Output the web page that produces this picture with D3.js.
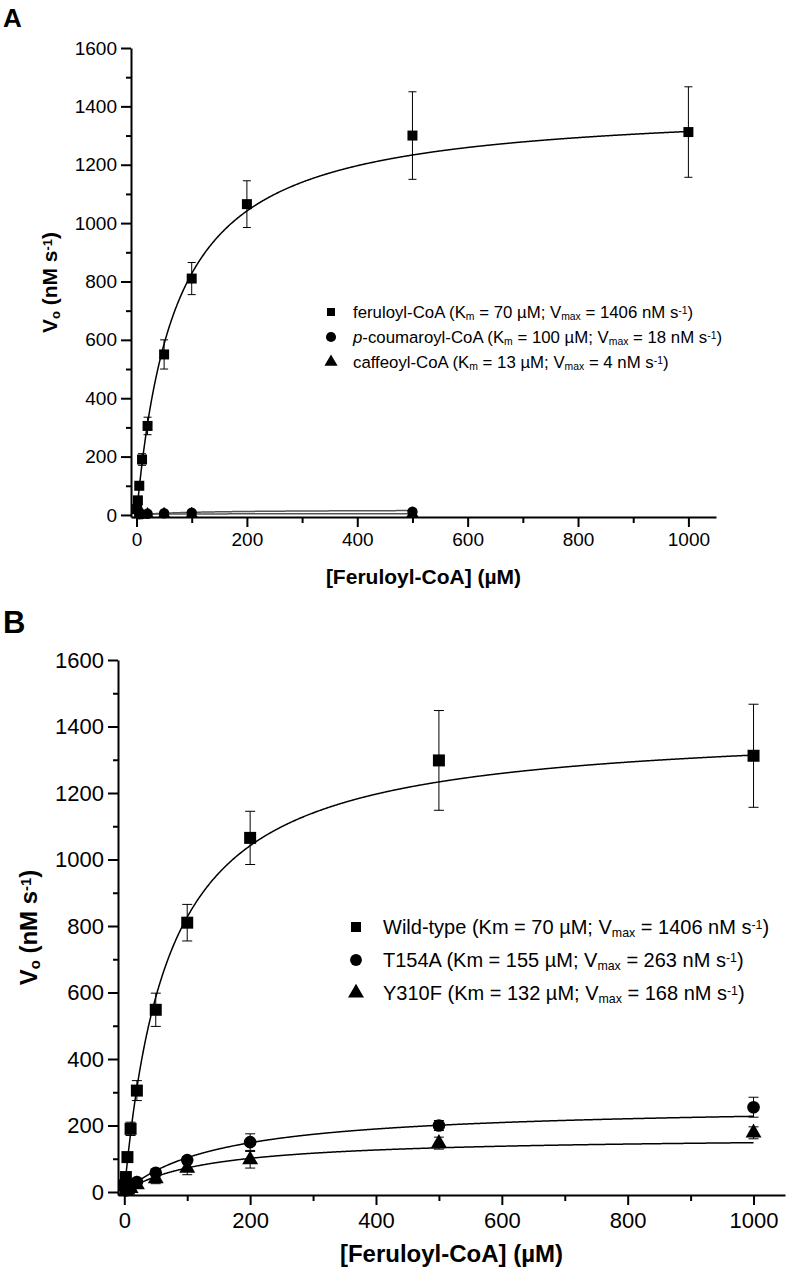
<!DOCTYPE html>
<html>
<head>
<meta charset="utf-8">
<script src="https://cdn.jsdelivr.net/npm/d3@7"></script>
<style>
  body { margin: 0; background: #fff; }
  svg text { font-family: "Liberation Sans", Arial, sans-serif; fill: #000; }
</style>
</head>
<body>
<div id="chart"></div>
<script>
// ---- data ----
const majorX = [0, 200, 400, 600, 800, 1000];
const minorX = [100, 300, 500, 700, 900];
const majorY = [0, 200, 400, 600, 800, 1000, 1200, 1400, 1600];
const minorY = [100, 300, 500, 700, 900, 1100, 1300, 1500];

// panel A
const feruloylX = [1, 2.5, 5, 10, 20, 50, 100, 200, 500, 1000];
const feruloylV = [20, 50, 100, 190, 305, 550, 810, 1065, 1300, 1312];
const feruloylErr = [3, 5, 8, 20, 30, 50, 55, 80, 150, 155];
const coumaroylX = [5, 10, 20, 50, 100, 500];
const coumaroylV = [2, 3, 4, 6, 8, 11];
const coumaroylErr = [1, 1, 1, 1, 2, 2];
const caffeoylX = [5, 10, 20, 50, 100, 500];
const caffeoylV = [1, 2, 2, 3, 3, 4];
const caffeoylErr = [1, 1, 1, 1, 1, 1];

// panel B
const wildX = [1, 2.5, 5, 10, 20, 50, 100, 200, 500, 1000];
const wildV = [20, 45, 105, 190, 305, 548, 810, 1065, 1298, 1312];
const wildErr = [3, 5, 10, 20, 30, 50, 55, 80, 150, 155];
const t154aX = [2.5, 5, 10, 20, 50, 100, 200, 500, 1000];
const t154aV = [5, 9, 16, 30, 58, 96, 150, 200, 255];
const t154aErr = [2, 3, 4, 6, 8, 10, 25, 15, 30];
const y310fX = [2.5, 5, 10, 20, 50, 100, 200, 500, 1000];
const y310fV = [3, 6, 11, 22, 40, 72, 97, 147, 178];
const y310fErr = [2, 3, 4, 6, 15, 20, 25, 18, 18];

// Michaelis-Menten fit parameters (from legends)
const fitKm = { feruloyl: 70, coumaroyl: 100, caffeoyl: 13, wild: 70, t154a: 155, y310f: 132 };
const fitVmax = { feruloyl: 1406, coumaroyl: 18, caffeoyl: 4, wild: 1406, t154a: 263, y310f: 168 };

const width = 789, height = 1280;
const svg = d3.select("#chart").append("svg")
  .attr("width", width).attr("height", height);

function zip(xs, vs, es) {
  return xs.map((x, i) => ({ x: x, v: vs[i], e: es[i] }));
}

// add a label built from parts [{t, sub, sup, it}]
function richText(sel, parts, subSize) {
  parts.forEach((p) => {
    const ts = sel.append("tspan").text(p.t);
    if (p.sub) ts.attr("baseline-shift", "-22%").style("font-size", subSize);
    if (p.sup) ts.attr("baseline-shift", "38%").style("font-size", subSize);
    if (p.it) ts.style("font-style", "italic");
  });
  return sel;
}

function drawPanel(cfg) {
  const x = d3.scaleLinear().domain([-10, 1050]).range([cfg.left, cfg.right]);
  const y = d3.scaleLinear().domain([cfg.yMin, 1600]).range([cfg.bottom, cfg.top]);

  const g = svg.append("g");

  // panel letter
  g.append("text").attr("x", 3).attr("y", cfg.letterY)
    .style("font-size", cfg.letterSize + "px").style("font-weight", "bold")
    .text(cfg.letter);

  // minor ticks
  g.append("g").attr("transform", `translate(0,${cfg.bottom})`)
    .call(d3.axisBottom(x).tickValues(minorX).tickSize(6).tickFormat("").tickSizeOuter(0))
    .call((a) => a.select(".domain").remove());
  g.append("g").attr("transform", `translate(${cfg.left},0)`)
    .call(d3.axisLeft(y).tickValues(minorY).tickSize(5).tickFormat("").tickSizeOuter(0))
    .call((a) => a.select(".domain").remove());

  // major axes
  const xAxis = g.append("g").attr("transform", `translate(0,${cfg.bottom})`)
    .call(d3.axisBottom(x).tickValues(majorX).tickFormat(d3.format("d"))
      .tickSize(10).tickPadding(cfg.xPad).tickSizeOuter(0));
  const yAxis = g.append("g").attr("transform", `translate(${cfg.left},0)`)
    .call(d3.axisLeft(y).tickValues(majorY).tickFormat(d3.format("d"))
      .tickSize(10).tickPadding(4).tickSizeOuter(0));

  g.selectAll(".tick line").attr("stroke", "#000").attr("stroke-width", 2);
  g.selectAll(".domain").attr("stroke", "#000").attr("stroke-width", 2);
  [xAxis, yAxis].forEach((a) => a.selectAll("text")
    .style("font-family", '"Liberation Sans", Arial, sans-serif')
    .style("font-size", cfg.tickSize + "px"));

  // axis titles
  g.append("text")
    .attr("x", (cfg.left + cfg.right) / 2).attr("y", cfg.xTitleY)
    .attr("text-anchor", "middle")
    .style("font-size", cfg.titleSize + "px").style("font-weight", "bold")
    .text("[Feruloyl-CoA] (µM)");
  const yt = g.append("text")
    .attr("transform", `translate(${cfg.yTitleX},${(cfg.top + cfg.bottom) / 2}) rotate(-90)`)
    .attr("text-anchor", "middle")
    .style("font-size", cfg.titleSize + "px").style("font-weight", "bold");
  richText(yt, [{ t: "V" }, { t: "o", sub: true }, { t: " (nM s" }, { t: "-1", sup: true }, { t: ")" }], "62%");

  // fit curves
  const line = d3.line().x((d) => x(d[0])).y((d) => y(d[1]));
  cfg.series.forEach((s) => {
    const km = fitKm[s.key], vm = fitVmax[s.key];
    const pts = d3.range(0, s.fitEnd + 1, 1).map((c) => [c, vm * c / (km + c)]);
    g.append("path").datum(pts)
      .attr("fill", "none").attr("stroke", s.fitColor || "#000")
      .attr("stroke-width", 1.5).attr("d", line);
  });

  // error bars + markers
  cfg.series.forEach((s) => {
    const eg = g.append("g");
    eg.selectAll("line.bar").data(s.data).join("line")
      .attr("x1", (d) => x(d.x)).attr("x2", (d) => x(d.x))
      .attr("y1", (d) => y(d.v - d.e)).attr("y2", (d) => y(d.v + d.e))
      .attr("stroke", "#000").attr("stroke-width", 1);
    [1, -1].forEach((sg) => {
      eg.selectAll(null).data(s.data).join("line")
        .attr("x1", (d) => x(d.x) - cfg.cap).attr("x2", (d) => x(d.x) + cfg.cap)
        .attr("y1", (d) => y(d.v + sg * d.e)).attr("y2", (d) => y(d.v + sg * d.e))
        .attr("stroke", "#000").attr("stroke-width", 1);
    });
    const sym = d3.symbol().type(s.type).size(s.size);
    g.append("g").selectAll("path").data(s.data).join("path")
      .attr("transform", (d) => `translate(${x(d.x)},${y(d.v)})`)
      .attr("d", sym).attr("fill", "#000");
  });

  // legend
  const lg = g.append("g");
  cfg.legend.forEach((item, i) => {
    const ly = cfg.legendY + i * cfg.legendGap;
    lg.append("path")
      .attr("transform", `translate(${cfg.legendSymX},${ly})`)
      .attr("d", d3.symbol().type(item.type).size(item.size)).attr("fill", "#000");
    const t = lg.append("text").attr("x", cfg.legendTextX).attr("y", ly + cfg.legendSize * 0.36)
      .style("font-size", cfg.legendSize + "px");
    richText(t, item.parts, "62%");
  });
}

drawPanel({
  letter: "A", letterY: 27, letterSize: 26,
  left: 131, right: 716, top: 48, bottom: 517, yMin: -7,
  tickSize: 19, xPad: 6, titleSize: 21,
  xTitleY: 584, yTitleX: 57, cap: 4,
  series: [
    { key: "feruloyl", data: zip(feruloylX, feruloylV, feruloylErr), type: d3.symbolSquare, size: 100, fitEnd: 1000 },
    { key: "coumaroyl", data: zip(coumaroylX, coumaroylV, coumaroylErr), type: d3.symbolCircle, size: 85, fitEnd: 500, fitColor: "#555" },
    { key: "caffeoyl", data: zip(caffeoylX, caffeoylV, caffeoylErr), type: d3.symbolTriangle, size: 70, fitEnd: 500, fitColor: "#555" },
  ],
  legendY: 312, legendGap: 25, legendSymX: 331, legendTextX: 353, legendSize: 16.8,
  legend: [
    { type: d3.symbolSquare, size: 64, parts: [{ t: "feruloyl-CoA (K" }, { t: "m", sub: true }, { t: " = 70 µM; V" }, { t: "max", sub: true }, { t: " = 1406 nM s" }, { t: "-1", sup: true }, { t: ")" }] },
    { type: d3.symbolCircle, size: 80, parts: [{ t: "p", it: true }, { t: "-coumaroyl-CoA (K" }, { t: "m", sub: true }, { t: " = 100 µM; V" }, { t: "max", sub: true }, { t: " = 18 nM s" }, { t: "-1", sup: true }, { t: ")" }] },
    { type: d3.symbolTriangle, size: 75, parts: [{ t: "caffeoyl-CoA (K" }, { t: "m", sub: true }, { t: " = 13 µM; V" }, { t: "max", sub: true }, { t: " = 4 nM s" }, { t: "-1", sup: true }, { t: ")" }] },
  ],
});

drawPanel({
  letter: "B", letterY: 633, letterSize: 31,
  left: 118, right: 785, top: 660, bottom: 1195, yMin: -9,
  tickSize: 22, xPad: 7, titleSize: 24,
  xTitleY: 1262, yTitleX: 37, cap: 5,
  series: [
    { key: "wild", data: zip(wildX, wildV, wildErr), type: d3.symbolSquare, size: 144, fitEnd: 1000 },
    { key: "t154a", data: zip(t154aX, t154aV, t154aErr), type: d3.symbolCircle, size: 125, fitEnd: 1000 },
    { key: "y310f", data: zip(y310fX, y310fV, y310fErr), type: d3.symbolTriangle, size: 110, fitEnd: 1000 },
  ],
  legendY: 927, legendGap: 33, legendSymX: 356, legendTextX: 383, legendSize: 20,
  legend: [
    { type: d3.symbolSquare, size: 100, parts: [{ t: "Wild-type (Km = 70 µM; V" }, { t: "max", sub: true }, { t: " = 1406 nM s" }, { t: "-1", sup: true }, { t: ")" }] },
    { type: d3.symbolCircle, size: 110, parts: [{ t: "T154A (Km = 155 µM; V" }, { t: "max", sub: true }, { t: " = 263 nM s" }, { t: "-1", sup: true }, { t: ")" }] },
    { type: d3.symbolTriangle, size: 110, parts: [{ t: "Y310F (Km = 132 µM; V" }, { t: "max", sub: true }, { t: " = 168 nM s" }, { t: "-1", sup: true }, { t: ")" }] },
  ],
});
</script>
</body>
</html>
